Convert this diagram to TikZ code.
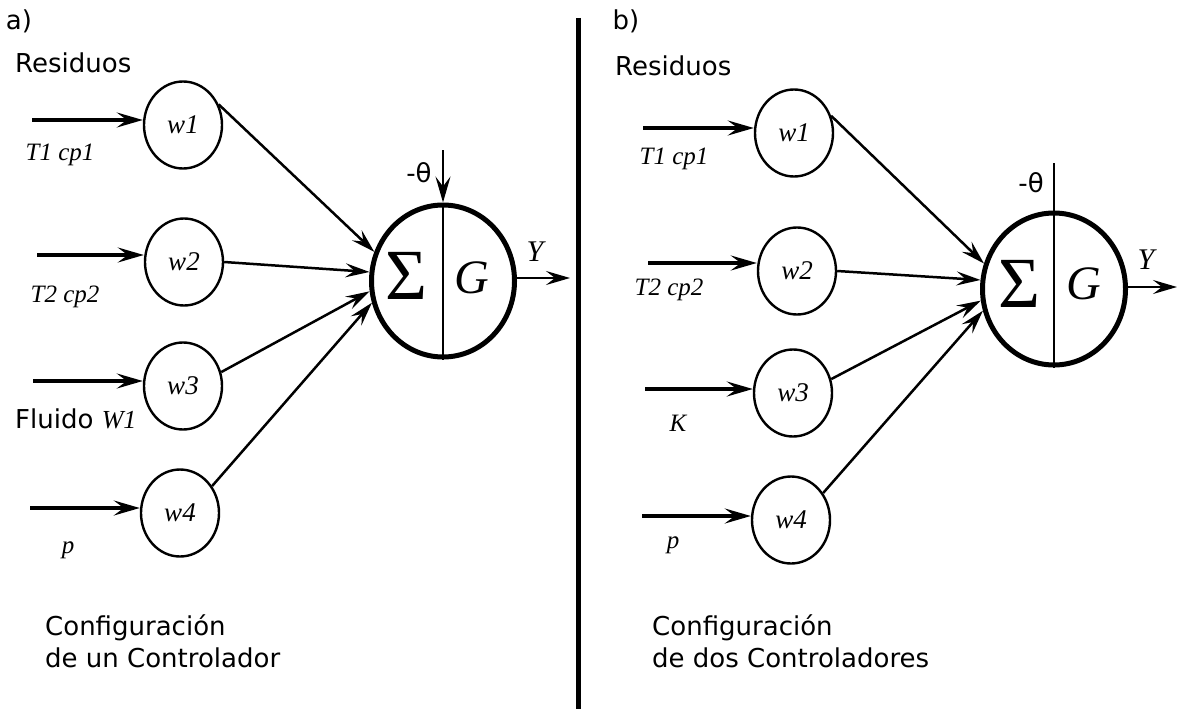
\documentclass[tikz,border=0pt]{standalone}
\usepackage{fontspec}
\setmainfont{DejaVu Sans}
\newfontfamily\tms{Liberation Serif}
\usetikzlibrary{arrows.meta,shapes.geometric}
\tikzset{
  wnode/.style={ellipse, draw, line width=2.4pt, minimum width=78pt, minimum height=87pt,
    inner sep=0pt, font=\tms\itshape\fontsize{27}{27}\selectfont},
  sumnode/.style={ellipse, draw, line width=5pt, minimum width=143pt, minimum height=152pt,
    inner sep=0pt},
  inarr/.style={-{Stealth[length=26pt,width=15pt,inset=10pt]}, line width=3.4pt},
  conarr/.style={-{Stealth[length=24pt,width=14pt,inset=9pt]}, line width=2.5pt},
  thline/.style={line width=2.5pt},
  lbl/.style={font=\fontsize{26}{26}\selectfont, inner sep=0pt},
  varlbl/.style={font=\tms\itshape\fontsize{25}{25}\selectfont, inner sep=0pt},
  siglbl/.style={font=\tms\fontsize{72}{72}\selectfont, inner sep=0pt},
  glbl/.style={font=\tms\itshape\fontsize{48}{48}\selectfont, inner sep=0pt}
}

\begin{document}
\begin{tikzpicture}[x=1pt,y=-1pt]
  \useasboundingbox (0,0) rectangle (1177,709);

  % divider
  \draw[line width=5pt] (578,18) -- (578,709);

  % ---- a) one controller
  \node[lbl] (tagA) at (19,21) {a)};
  \node[lbl, anchor=west] (resA) at (15,63) {Residuos};

  \node[wnode] (wA1) at (183,125) {w1};
  \node[wnode] (wA2) at (184,262) {w2};
  \node[wnode] (wA3) at (183,386) {w3};
  \node[wnode] (wA4) at (180,513) {w4};

  \coordinate (inA1) at (32,120);
  \coordinate (inA2) at (37,255);
  \coordinate (inA3) at (33,381);
  \coordinate (inA4) at (30,508);
  \draw[inarr] (inA1) -- (inA1 -| wA1.west);
  \draw[inarr] (inA2) -- (inA2 -| wA2.west);
  \draw[inarr] (inA3) -- (inA3 -| wA3.west);
  \draw[inarr] (inA4) -- (inA4 -| wA4.west);

  \node[varlbl] (tA1) at (60,155) {T1 cp1};
  \node[varlbl] (tA2) at (65,297) {T2 cp2};
  \node[lbl, anchor=west] (tA3) at (15,419) {Fluido {\tms\itshape W1}};
  \node[varlbl] (tA4) at (68,550) {p};

  \node[sumnode] (sumA) at (443,281) {};
  \draw[thline] (sumA.north) -- (sumA.south);
  \node[siglbl] (sigA) at (406,276) {Σ};
  \node[glbl] (gA) at (472,278) {G};

  \coordinate (thA) at (443,150);
  \draw[inarr, line width=2.5pt] (thA) -- (sumA.north);
  \node[lbl] (thlA) at (419,173) {-θ};

  \coordinate (outA) at (570,278);
  \draw[conarr] (outA -| sumA.east) -- (outA);
  \node[varlbl, font=\tms\itshape\fontsize{30}{30}\selectfont] (yA) at (535,252) {Y};

  \draw[conarr] (wA1.30) -- (sumA.157);
  \draw[conarr] (wA2.east) -- (sumA.173);
  \draw[conarr] (wA3.20) -- (sumA.188);
  \draw[conarr] (wA4.40) -- (sumA.197);

  \node[lbl, anchor=west, align=left] (capA) at (45,641)
    {Configuración\\[6pt]de un Controlador};

  % ---- b) two controllers
  \node[lbl] (tagB) at (626,21) {b)};
  \node[lbl, anchor=west] (resB) at (615,66) {Residuos};

  \node[wnode] (wB1) at (794,133) {w1};
  \node[wnode] (wB2) at (797,271) {w2};
  \node[wnode] (wB3) at (793,393) {w3};
  \node[wnode] (wB4) at (791,520) {w4};

  \coordinate (inB1) at (643,128);
  \coordinate (inB2) at (648,263);
  \coordinate (inB3) at (645,389);
  \coordinate (inB4) at (642,516);
  \draw[inarr] (inB1) -- (inB1 -| wB1.west);
  \draw[inarr] (inB2) -- (inB2 -| wB2.west);
  \draw[inarr] (inB3) -- (inB3 -| wB3.west);
  \draw[inarr] (inB4) -- (inB4 -| wB4.west);

  \node[varlbl] (tB1) at (674,159) {T1 cp1};
  \node[varlbl] (tB2) at (669,290) {T2 cp2};
  \node[varlbl] (tB3) at (678,423) {K};
  \node[varlbl] (tB4) at (673,545) {p};

  \node[sumnode] (sumB) at (1054,289) {};
  \coordinate (thB) at (1054,163);
  \draw[thline] (thB) -- (sumB.south);
  \node[siglbl] (sigB) at (1019,284) {Σ};
  \node[glbl] (gB) at (1084,284) {G};
  \node[lbl] (thlB) at (1031,183) {-θ};

  \coordinate (outB) at (1177,287);
  \draw[conarr] (outB -| sumB.east) -- (outB);
  \node[varlbl, font=\tms\itshape\fontsize{30}{30}\selectfont] (yB) at (1146,260) {Y};

  \draw[conarr] (wB1.25) -- (sumB.160);
  \draw[conarr] (wB2.east) -- (sumB.173);
  \draw[conarr] (wB3.20) -- (sumB.189);
  \draw[conarr] (wB4.40) -- (sumB.197);

  \node[lbl, anchor=west, align=left] (capB) at (652,641)
    {Configuración\\[6pt]de dos Controladores};
\end{tikzpicture}
\end{document}
